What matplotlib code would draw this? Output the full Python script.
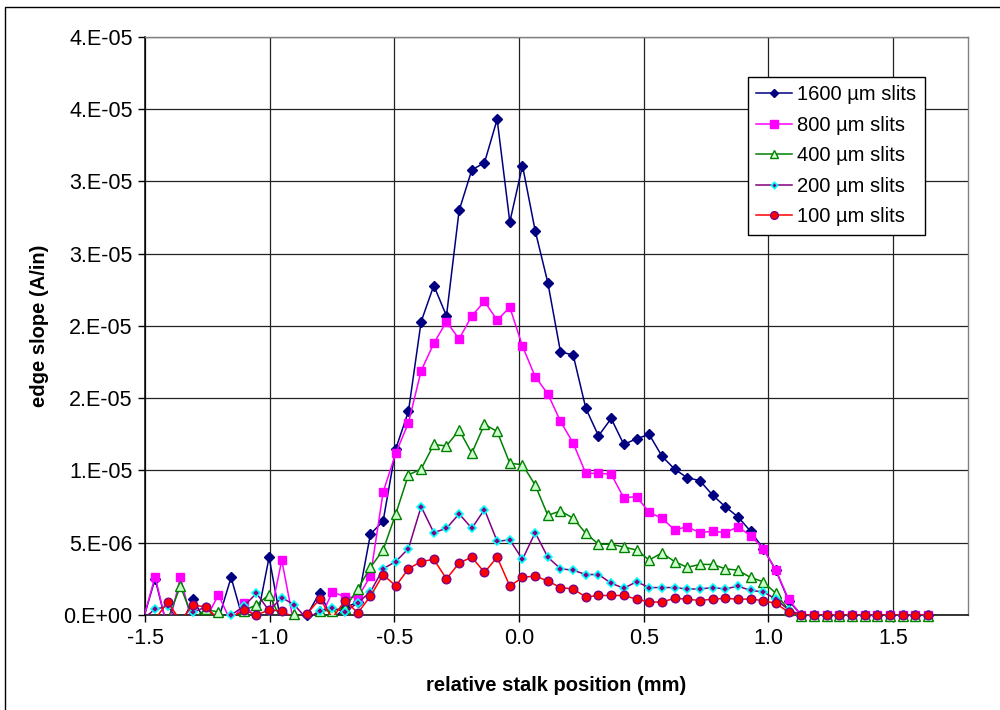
import numpy as np
import matplotlib
matplotlib.use('Agg')
import matplotlib.pyplot as plt
from matplotlib.lines import Line2D
from matplotlib.patches import Rectangle

plt.rcParams['font.family'] = ['Liberation Sans', 'DejaVu Sans']

#--------data (values in 1e-6 A/in)--------#
# positions sampled every 0.002 in (0.0508 mm)
x_start = 0.0136
x_step = 0.0508
k_index = np.arange(-30, 33)

s1600 = [-0.5, 2.5, -1.0, -0.8, 1.1, -0.5, -0.3, 2.6, -0.5, -0.5,
         4.0, -0.8, -0.2, 0.0, 1.55, -0.3, 0.5, 0.9, 5.6, 6.5,
         11.5, 14.1, 20.3, 22.8, 20.7, 28.0, 30.8, 31.3, 34.3, 27.2,
         31.1, 26.6, 23.0, 18.2, 18.0, 14.3, 12.4, 13.6, 11.8, 12.2,
         12.5, 11.0, 10.1, 9.5, 9.3, 8.3, 7.5, 6.8, 5.8, 4.6,
         3.1, 1.0, 0, 0, 0, 0, 0, 0, 0, 0, 0, 0, 0]
s800 = [-0.5, 2.65, -1.0, 2.6, -0.8, -0.3, 1.4, -0.5, 0.85, -0.3,
        -0.5, 3.8, -0.8, -0.3, -0.3, 1.6, 1.25, 1.2, 2.7, 8.5,
        11.2, 13.3, 16.9, 18.8, 20.3, 19.1, 20.7, 21.7, 20.4, 21.3,
        18.6, 16.5, 15.3, 13.4, 11.9, 9.8, 9.8, 9.75, 8.1, 8.2,
        7.1, 6.7, 5.9, 6.1, 5.7, 5.8, 5.7, 6.1, 5.5, 4.6,
        3.1, 1.1, 0, 0, 0, 0, 0, 0, 0, 0, 0, 0, 0]
s400 = [-0.3, -0.5, -0.3, 2.0, -0.3, 0.4, 0.2, -0.4, 0.3, 0.7,
        1.4, -0.4, 0.1, -0.3, 0.3, 0.3, 0.5, 1.8, 3.3, 4.5,
        7.0, 9.7, 10.1, 11.8, 11.7, 12.8, 11.2, 13.2, 12.7, 10.5,
        10.4, 9.0, 6.9, 7.2, 6.7, 5.65, 4.9, 4.9, 4.7, 4.5,
        3.8, 4.3, 3.7, 3.3, 3.5, 3.5, 3.2, 3.1, 2.6, 2.3,
        1.5, 0.35, -0.05, -0.05, -0.05, -0.05, -0.05, -0.05, -0.05, -0.05, -0.05, -0.05, -0.05]
s200 = [-0.3, 0.4, 0.6, -0.5, 0.2, 0.55, -0.3, 0.0, 0.6, 1.5,
        0.3, 1.2, 0.7, -0.3, 0.3, 0.5, 0.2, 0.85, 1.6, 3.2,
        3.7, 4.6, 7.5, 5.7, 6.0, 7.0, 6.0, 7.3, 5.1, 5.2,
        3.85, 5.7, 4.0, 3.2, 3.1, 2.8, 2.8, 2.2, 1.85, 2.3,
        1.9, 1.9, 1.9, 1.8, 1.8, 1.9, 1.8, 2.0, 1.7, 1.6,
        1.1, 0.35, 0, 0, 0, 0, 0, 0, 0, 0, 0, 0, 0]
s100 = [-0.2, -0.3, 0.9, -0.4, 0.7, 0.55, -0.3, -0.2, 0.35, 0.0,
        0.35, 0.28, -0.2, 0.1, 1.1, -0.2, 1.0, 0.15, 1.3, 2.8,
        2.0, 3.2, 3.7, 3.85, 2.5, 3.6, 4.0, 2.95, 4.0, 2.0,
        2.6, 2.7, 2.35, 1.9, 1.8, 1.25, 1.35, 1.35, 1.35, 1.1,
        0.9, 0.9, 1.15, 1.1, 1.0, 1.1, 1.15, 1.1, 1.1, 1.0,
        0.8, 0.2, 0, 0, 0, 0, 0, 0, 0, 0, 0, 0, 0]

labels = ['1600 µm slits', '800 µm slits', '400 µm slits', '200 µm slits', '100 µm slits']
y_ticks = [0, 5e-6, 1e-5, 1.5e-5, 2e-5, 2.5e-5, 3e-5, 3.5e-5, 4e-5]
y_tick_labels = ['0.E+00', '5.E-06', '1.E-05', '2.E-05', '2.E-05', '3.E-05', '3.E-05', '4.E-05', '4.E-05']
x_ticks = [-1.5, -1.0, -0.5, 0.0, 0.5, 1.0, 1.5]
#------------------------------------------#

#--------styles--------#
styles = [
    dict(color='#000080', marker='D', ms=4.6, mfc='#000080', mec='#000080', mew=1.0),
    dict(color='#FF00FF', marker='s', ms=5.8, mfc='#FF00FF', mec='#FF00FF', mew=1.0),
    dict(color='#008000', marker='^', ms=6.8, mfc='#CCFFCC', mec='#008000', mew=1.0),
    dict(color='#800080', marker='D', ms=3.6, mfc='#800080', mec='#00FFFF', mew=1.2),
    dict(color='#FF0000', marker='o', ms=6.2, mfc='#FF0000', mec='#800080', mew=1.0),
]
#----------------------#

x = x_start + x_step * k_index
series = [s1600, s800, s400, s200, s100]

fig = plt.figure(figsize=(10, 7.1), dpi=100)
ax = fig.add_axes([0.145, 0.1338, 0.823, 0.8141])

x_min, x_max = -1.5, 1.8
handles = []
for i, (vals, st) in enumerate(zip(series, styles)):
    y = np.array(vals) * 1e-6
    z = 3 + i * 0.2
    ax.plot(x, y, color=st['color'], lw=1.1, zorder=z)
    keep = (x >= x_min) & (y >= -1e-7)
    ax.plot(x[keep], y[keep], ls='none', marker=st['marker'], ms=st['ms'],
            mfc=st['mfc'], mec=st['mec'], mew=st['mew'], zorder=z + 0.1, clip_on=False)
    handles.append(Line2D([], [], color=st['color'], lw=1.1, marker=st['marker'],
                          ms=st['ms'] * 0.9, mfc=st['mfc'], mec=st['mec'], mew=st['mew']))

ax.set_xlim(x_min, x_max)
ax.set_ylim(0, 4e-5)
ax.set_xticks(x_ticks)
ax.set_xticklabels(['%.1f' % v for v in x_ticks], fontsize=15.5)
ax.set_yticks(y_ticks)
ax.set_yticklabels(y_tick_labels, fontsize=15.5)
ax.tick_params(direction='out', length=5, width=1, color='black', pad=4)
ax.grid(True, color='#222222', lw=0.9)
ax.set_axisbelow(True)
for s in ['left', 'bottom']:
    ax.spines[s].set_color('black')
    ax.spines[s].set_linewidth(1.1)
    ax.spines[s].set_zorder(2.5)
for s in ['top', 'right']:
    ax.spines[s].set_color('#808080')
    ax.spines[s].set_linewidth(1.0)

ax.set_xlabel('relative stalk position (mm)', fontsize=14.5, fontweight='bold', labelpad=20)
ax.set_ylabel('edge slope (A/in)', fontsize=14.5, fontweight='bold', labelpad=10)

leg = ax.legend(handles, labels, loc='upper right', bbox_to_anchor=(0.925, 0.8915),
                bbox_transform=fig.transFigure, fontsize=14.5, fancybox=False,
                framealpha=1, edgecolor='black', handlelength=1.8, labelspacing=0.57,
                borderpad=0.42, handletextpad=0.25, borderaxespad=0)
leg.get_frame().set_linewidth(1.0)
leg.set_zorder(10)

# chart area border
fig.patches.append(Rectangle((0.005, -0.05), 1.2, 1.04, transform=fig.transFigure,
                             fill=False, edgecolor='black', lw=1.0))

fig.savefig('out.png', dpi=100)
